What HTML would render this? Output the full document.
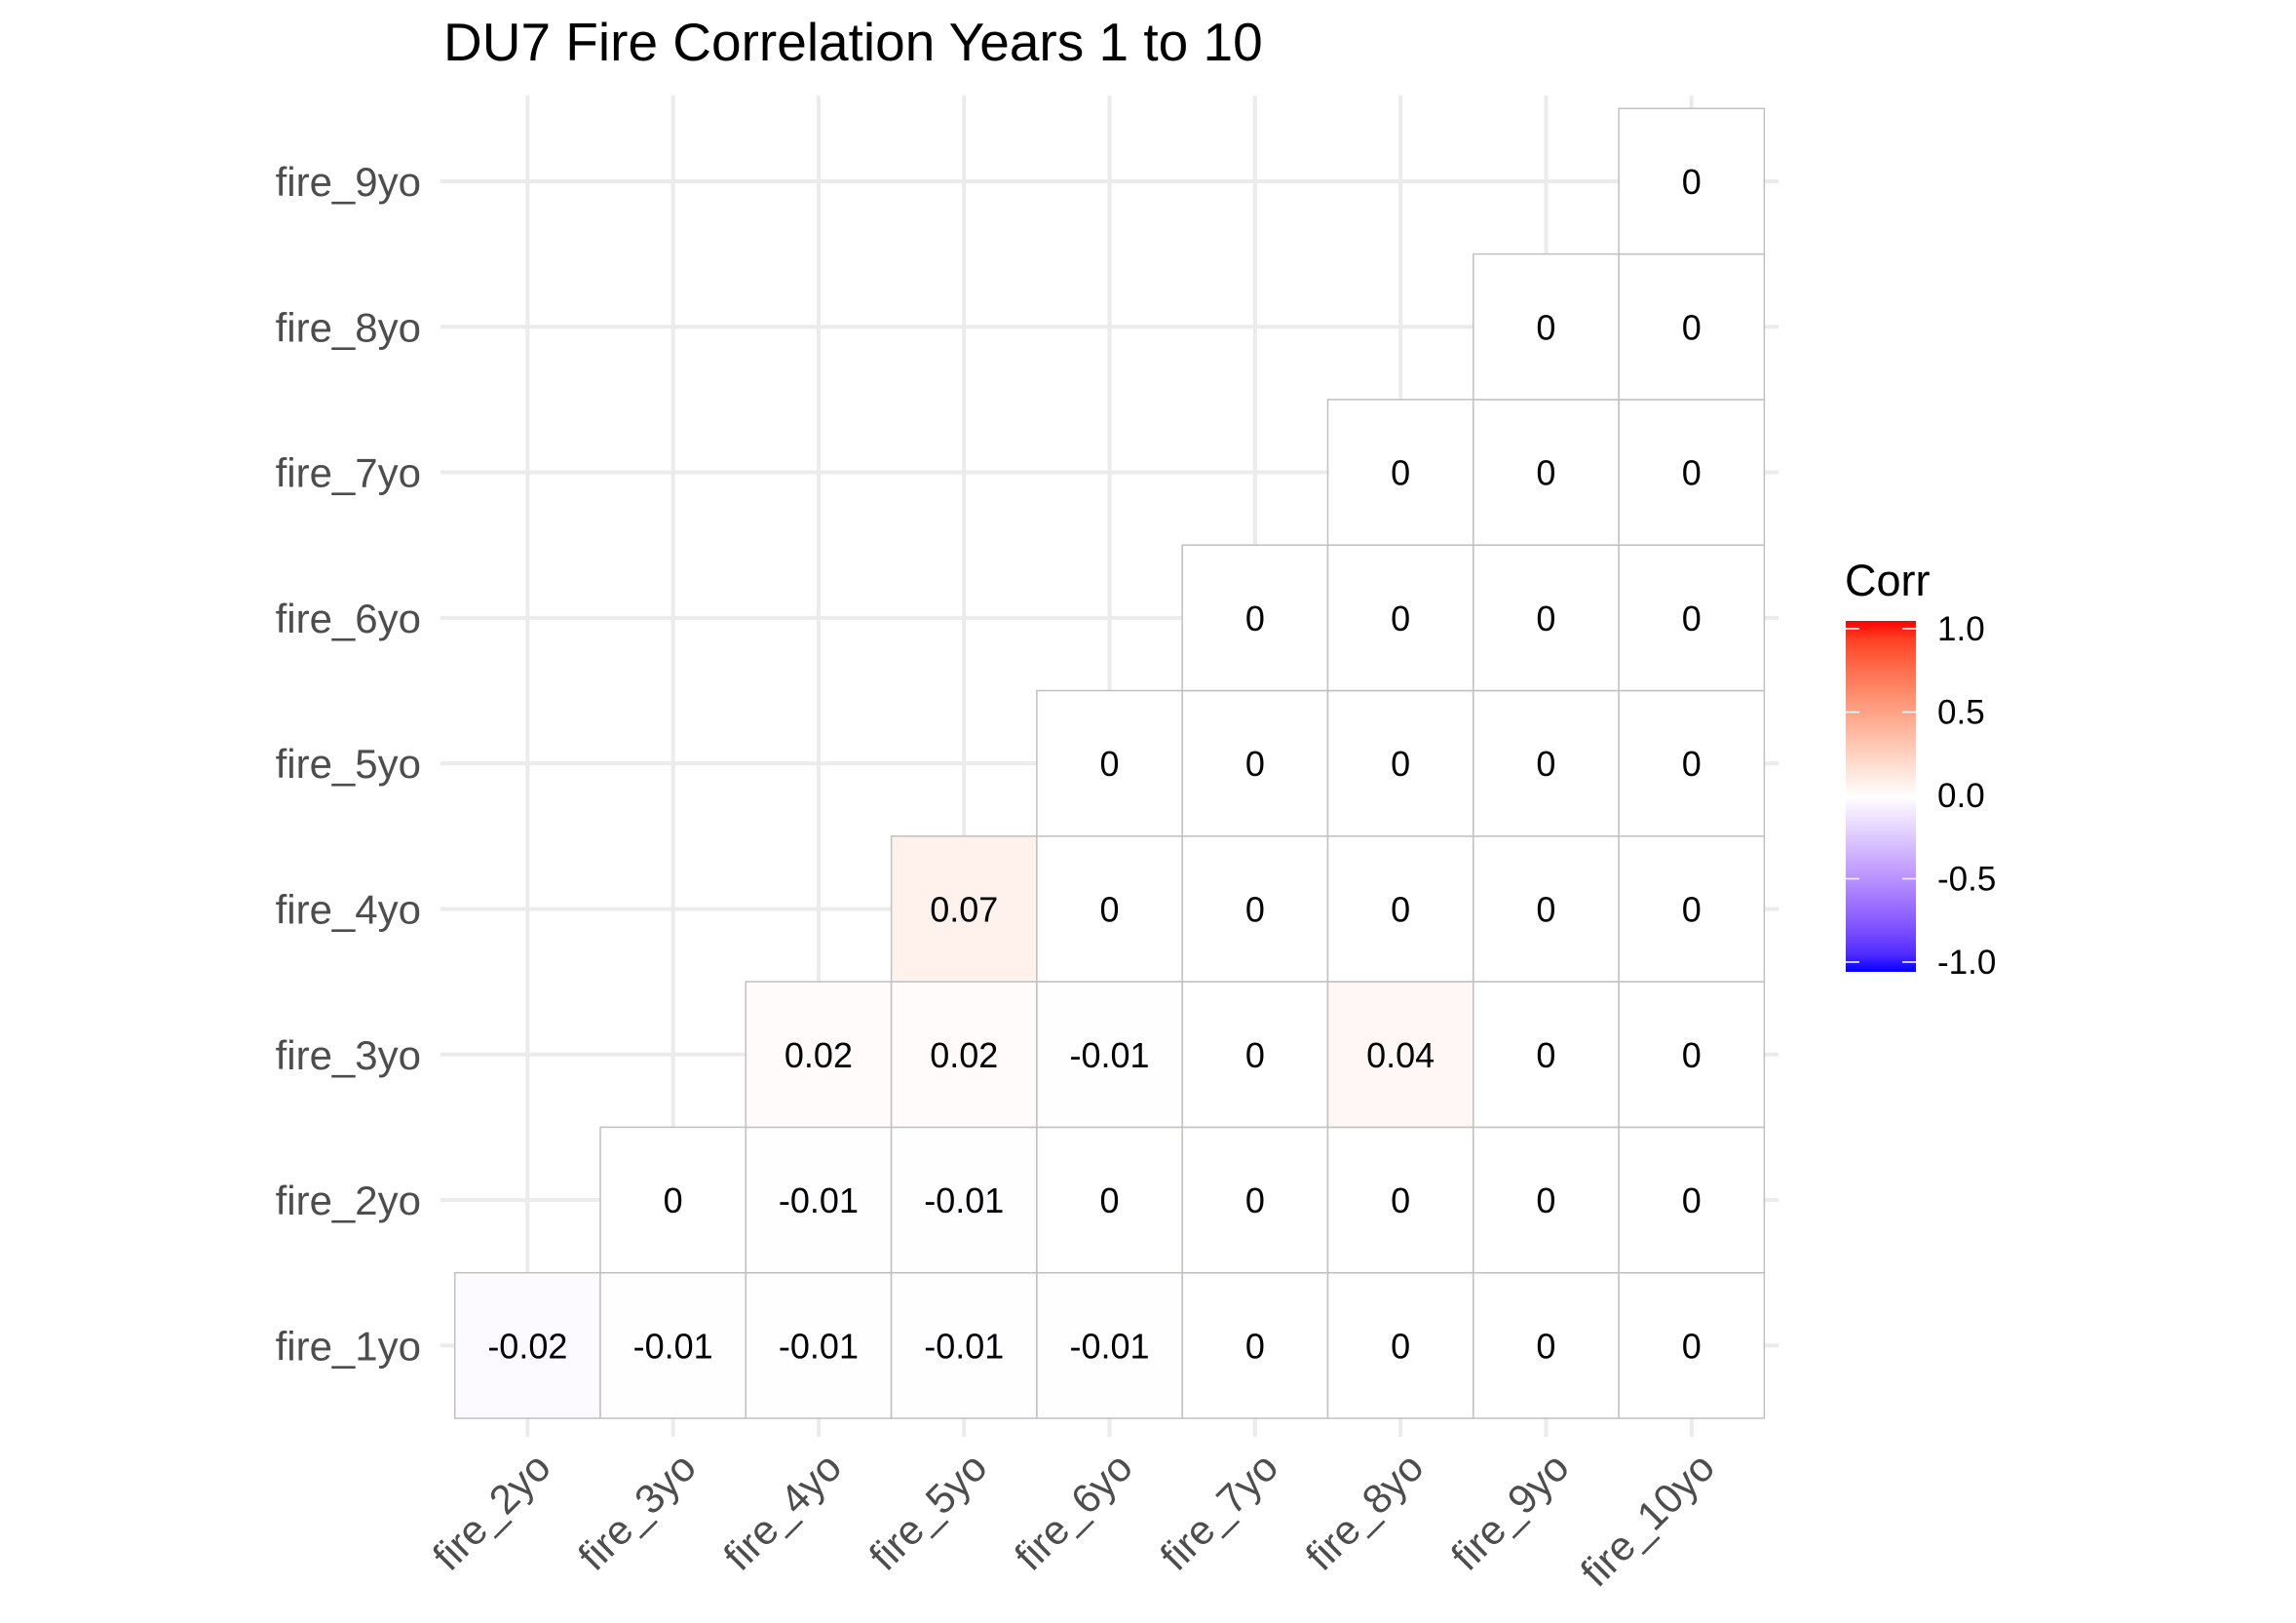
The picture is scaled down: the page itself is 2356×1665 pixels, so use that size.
<!DOCTYPE html>
<html><head><meta charset="utf-8"><style>
html,body{margin:0;padding:0;background:#fff;}
svg{display:block;font-family:"Liberation Sans",Arial,sans-serif;}
</style></head><body>
<svg id="chart" width="2356" height="1665" viewBox="0 0 2356 1665" xmlns="http://www.w3.org/2000/svg">
<defs>
<linearGradient id="legGrad" x1="0" y1="1" x2="0" y2="0"></linearGradient>
</defs>
<text x="455" y="62" font-size="55" fill="#000">DU7 Fire Correlation Years 1 to 10</text>
<g id="grid"></g><g id="tiles"></g><g id="axes"></g><g id="legend"></g>
</svg>
<script>
const xCategories = ["fire_2yo","fire_3yo","fire_4yo","fire_5yo","fire_6yo","fire_7yo","fire_8yo","fire_9yo","fire_10yo"];
const yCategories = ["fire_1yo","fire_2yo","fire_3yo","fire_4yo","fire_5yo","fire_6yo","fire_7yo","fire_8yo","fire_9yo"];
const row1 = [-0.02,-0.01,-0.01,-0.01,-0.01,0,0,0,0];
const row2 = [0,-0.01,-0.01,0,0,0,0,0];
const row3 = [0.02,0.02,-0.01,0,0.04,0,0];
const row4 = [0.07,0,0,0,0,0];
const row5 = [0,0,0,0,0];
const row6 = [0,0,0,0];
const row7 = [0,0,0];
const row8 = [0,0];
const row9 = [0];
const rows = [row1,row2,row3,row4,row5,row6,row7,row8,row9];
const legendTicks = [1.0,0.5,0.0,-0.5,-1.0];
const legendTickLabels = ["1.0","0.5","0.0","-0.5","-1.0"];

const NS="http://www.w3.org/2000/svg";
function mk(tag,attrs,parent){const e=document.createElementNS(NS,tag);for(const k in attrs)e.setAttribute(k,attrs[k]);parent.appendChild(e);return e;}
const cell=149.3, x0=466.7, yBottom=1455;
const xPos=i=>x0+i*cell;
const yPos=j=>yBottom-(j+1)*cell;
const legY=v=>816-v*171;

function toLin(c){c/=255;return c<=0.04045?c/12.92:Math.pow((c+0.055)/1.055,2.4);}
function fromLin(c){c=c<=0.0031308?12.92*c:1.055*Math.pow(c,1/2.4)-0.055;return Math.max(0,Math.min(255,Math.round(c*255)));}
function rgb2lab(r,g,b){r=toLin(r);g=toLin(g);b=toLin(b);
 let X=(r*0.4124+g*0.3576+b*0.1805)/0.95047,Y=(r*0.2126+g*0.7152+b*0.0722),Z=(r*0.0193+g*0.1192+b*0.9505)/1.08883;
 const f=t=>t>0.008856?Math.cbrt(t):7.787*t+16/116;X=f(X);Y=f(Y);Z=f(Z);
 return [116*Y-16,500*(X-Y),200*(Y-Z)];}
function lab2rgb(L,a,b){let Y=(L+16)/116,X=a/500+Y,Z=Y-b/200;
 const f=t=>t*t*t>0.008856?t*t*t:(t-16/116)/7.787;X=f(X)*0.95047;Y=f(Y);Z=f(Z)*1.08883;
 const r=X*3.2406+Y*-1.5372+Z*-0.4986,g=X*-0.9689+Y*1.8758+Z*0.0415,bb=X*0.0557+Y*-0.2040+Z*1.0570;
 return `rgb(${fromLin(r)},${fromLin(g)},${fromLin(bb)})`;}
const LR=rgb2lab(255,0,0),LW=rgb2lab(255,255,255),LB=rgb2lab(0,0,255);
function colorFor(v){const t=Math.min(1,Math.abs(v));const e=v>=0?LR:LB;
 return lab2rgb(LW[0]+(e[0]-LW[0])*t,LW[1]+(e[1]-LW[1])*t,LW[2]+(e[2]-LW[2])*t);}

const grid=document.getElementById('grid');
yCategories.forEach((c,j)=>{const y=yPos(j)+cell/2;
 const l=mk('line',{x1:452,x2:1825,y1:y,y2:y,stroke:'#ebebeb','stroke-width':4},grid);
 
 });
xCategories.forEach((c,i)=>{const x=xPos(i)+cell/2;
 const l=mk('line',{x1:x,x2:x,y1:98,y2:1474,stroke:'#ebebeb','stroke-width':4},grid);
 
 });

const tiles=document.getElementById('tiles');
rows.forEach((vals,j)=>{vals.forEach((v,k)=>{const i=j+k;
 const x=xPos(i),y=yPos(j);
 const r=mk('rect',{x:x,y:y,width:cell,height:cell,fill:colorFor(v),stroke:'#c0c0c0','stroke-width':1.5},tiles);
 
 
 const t=mk('text',{x:x+cell/2,y:y+cell/2+13,'text-anchor':'middle','font-size':36,fill:'#000'},tiles);
 t.textContent=String(v);
 
 });});

const axes=document.getElementById('axes');
yCategories.forEach((c,j)=>{const t=mk('text',{x:432,y:yPos(j)+cell/2+15,'text-anchor':'end','font-size':42,fill:'#4d4d4d'},axes);
 t.textContent=c;
 
 });
xCategories.forEach((c,i)=>{const ax=xPos(i)+cell/2+26, ay=1508;
 const t=mk('text',{x:ax,y:ay,'text-anchor':'end','font-size':42,fill:'#4d4d4d',transform:`rotate(-45 ${ax} ${ay})`},axes);
 t.textContent=c;
 
 });

const grad=document.getElementById('legGrad');
for(let s=0;s<=20;s++){const v=-1+s*0.1;mk('stop',{offset:(s/20),'stop-color':colorFor(v)},grad);}
const leg=document.getElementById('legend');
const lt=mk('text',{x:1893,y:611,'font-size':45,fill:'#000'},leg);
lt.textContent='Corr';


const bar=mk('rect',{x:1894,y:637,width:72,height:360,fill:'url(#legGrad)'},leg);


legendTicks.forEach((v,i)=>{const y=legY(v);
 mk('line',{x1:1894,x2:1908,y1:y,y2:y,stroke:'#fff','stroke-width':1.5},leg);
 mk('line',{x1:1952,x2:1966,y1:y,y2:y,stroke:'#fff','stroke-width':1.5},leg);
 const t=mk('text',{x:1988,y:y+12,'font-size':35,fill:'#000'},leg);
 t.textContent=legendTickLabels[i];
 
 });
</script>
</body></html>
